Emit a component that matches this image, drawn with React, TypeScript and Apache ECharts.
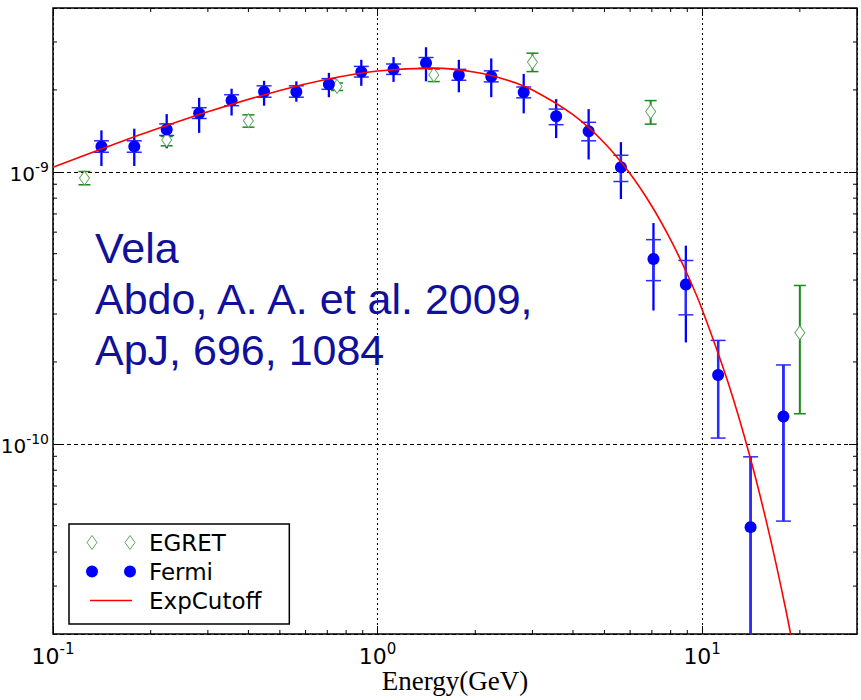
import React, { useEffect, useRef } from "react";
import * as echarts from "echarts";

// ---------- data ----------
const fermiEnergy = [0.141, 0.178, 0.224, 0.282, 0.355, 0.447, 0.562, 0.708, 0.891, 1.12, 1.41, 1.78, 2.24, 2.82, 3.55, 4.47, 5.62, 7.08, 8.91, 11.2, 14.1, 17.8];
const fermiFlux = [1.24e-9, 1.24e-9, 1.43e-9, 1.64e-9, 1.83e-9, 1.97e-9, 1.97e-9, 2.10e-9, 2.33e-9, 2.38e-9, 2.51e-9, 2.27e-9, 2.24e-9, 1.96e-9, 1.60e-9, 1.41e-9, 1.04e-9, 4.78e-10, 3.85e-10, 1.79e-10, 4.94e-11, 1.26e-10];
const fermiStatLo = [1.18e-9, 1.18e-9, 1.36e-9, 1.57e-9, 1.75e-9, 1.88e-9, 1.88e-9, 2.01e-9, 2.23e-9, 2.28e-9, 2.40e-9, 2.17e-9, 2.14e-9, 1.87e-9, 1.49e-9, 1.30e-9, 9.21e-10, 3.98e-10, 2.98e-10, 1.05e-10, 1.0e-11, 5.2e-11];
const fermiStatHi = [1.30e-9, 1.30e-9, 1.50e-9, 1.72e-9, 1.92e-9, 2.07e-9, 2.07e-9, 2.20e-9, 2.44e-9, 2.49e-9, 2.63e-9, 2.38e-9, 2.35e-9, 2.05e-9, 1.70e-9, 1.52e-9, 1.15e-9, 5.63e-10, 4.72e-10, 2.40e-10, 8.96e-11, 1.95e-10];
const fermiTotLo = [1.05e-9, 1.05e-9, 1.22e-9, 1.39e-9, 1.61e-9, 1.75e-9, 1.81e-9, 1.88e-9, 2.07e-9, 2.14e-9, 2.15e-9, 1.96e-9, 1.88e-9, 1.64e-9, 1.33e-9, 1.11e-9, 7.94e-10, 3.09e-10, 2.36e-10, 1.05e-10, 1.0e-11, 5.2e-11];
const fermiTotHi = [1.42e-9, 1.44e-9, 1.63e-9, 1.87e-9, 2.02e-9, 2.16e-9, 2.15e-9, 2.31e-9, 2.58e-9, 2.64e-9, 2.87e-9, 2.58e-9, 2.61e-9, 2.29e-9, 1.85e-9, 1.70e-9, 1.285e-9, 6.48e-10, 5.35e-10, 2.40e-10, 8.96e-11, 1.95e-10];

const egretEnergy = [0.125, 0.224, 0.40, 0.75, 1.49, 3.0, 6.94, 20.0];
const egretFlux = [9.48e-10, 1.31e-9, 1.54e-9, 2.06e-9, 2.27e-9, 2.53e-9, 1.665e-9, 2.56e-10];
const egretLo = [8.96e-10, 1.246e-9, 1.459e-9, 1.99e-9, 2.146e-9, 2.335e-9, 1.497e-9, 1.29e-10];
const egretHi = [1.0025e-9, 1.348e-9, 1.619e-9, 2.12e-9, 2.383e-9, 2.729e-9, 1.827e-9, 3.82e-10];

const cutoffEnergy = [0.1, 0.15, 0.2, 0.3, 0.5, 0.7, 1.0, 1.5, 2, 2.5, 3, 4, 5, 6, 7, 8, 9, 10, 12, 14, 16, 18, 20];
const cutoffFlux = [1.04e-9, 1.246e-9, 1.411e-9, 1.661e-9, 1.991e-9, 2.189e-9, 2.346e-9, 2.404e-9, 2.323e-9, 2.176e-9, 1.998e-9, 1.621e-9, 1.276e-9, 9.83e-10, 7.47e-10, 5.62e-10, 4.20e-10, 3.12e-10, 1.69e-10, 9.08e-11, 4.82e-11, 2.54e-11, 1.33e-11];

const X_MIN = 0.1;
const X_MAX = 30;
const Y_MIN = 2e-11;
const Y_MAX = 4e-9;
const xMinorTicks = [0.2, 0.3, 0.4, 0.5, 0.6, 0.7, 0.8, 0.9, 2, 3, 4, 5, 6, 7, 8, 9, 20];
const yMinorTicks = [3e-11, 4e-11, 5e-11, 6e-11, 7e-11, 8e-11, 9e-11, 2e-10, 3e-10, 4e-10, 5e-10, 6e-10, 7e-10, 8e-10, 9e-10, 2e-9, 3e-9];

const annotationLines = ["Vela", "Abdo, A. A. et al. 2009,", "ApJ, 696, 1084"];
const xAxisTitle = "Energy(GeV)";

// ---------- helpers ----------
const FONT = "DejaVu Sans";
const powLabel = (v: number) => {
  const e = Math.round(Math.log10(v));
  return `{b|10}{s|${e}}`;
};
const xLabelRich = {
  b: { fontSize: 22, fontFamily: FONT, color: "#000", lineHeight: 26, verticalAlign: "bottom" },
  s: { fontSize: 15, fontFamily: FONT, color: "#000", lineHeight: 14, verticalAlign: "top" },
};
const yLabelRich = {
  b: { fontSize: 20, fontFamily: FONT, color: "#000", lineHeight: 24, verticalAlign: "bottom" },
  s: { fontSize: 14, fontFamily: FONT, color: "#000", lineHeight: 13, verticalAlign: "top" },
};

function errorBarRenderer(color: string, lineWidth: number, capHalf: number, capWidth: number) {
  return (params: any, api: any) => {
    const x = api.value(0);
    const lo = api.coord([x, api.value(1)]);
    const hi = api.coord([x, api.value(2)]);
    const children: any[] = [
      { type: "line", shape: { x1: lo[0], y1: lo[1], x2: hi[0], y2: hi[1] }, style: { stroke: color, lineWidth } },
    ];
    if (capHalf > 0) {
      children.push({ type: "line", shape: { x1: lo[0] - capHalf, y1: lo[1], x2: lo[0] + capHalf, y2: lo[1] }, style: { stroke: color, lineWidth: capWidth } });
      children.push({ type: "line", shape: { x1: hi[0] - capHalf, y1: hi[1], x2: hi[0] + capHalf, y2: hi[1] }, style: { stroke: color, lineWidth: capWidth } });
    }
    return { type: "group", children };
  };
}

const MINOR_LEN = 4;
const xMinorRenderer = (params: any, api: any) => {
  const x = api.value(0);
  const b = api.coord([x, Y_MIN]);
  const t = api.coord([x, Y_MAX]);
  return {
    type: "group",
    children: [
      { type: "line", shape: { x1: b[0], y1: b[1], x2: b[0], y2: b[1] - MINOR_LEN }, style: { stroke: "#000", lineWidth: 1 } },
      { type: "line", shape: { x1: t[0], y1: t[1], x2: t[0], y2: t[1] + MINOR_LEN }, style: { stroke: "#000", lineWidth: 1 } },
    ],
  };
};
const yMinorRenderer = (params: any, api: any) => {
  const y = api.value(1);
  const l = api.coord([X_MIN, y]);
  const r = api.coord([X_MAX, y]);
  return {
    type: "group",
    children: [
      { type: "line", shape: { x1: l[0], y1: l[1], x2: l[0] + MINOR_LEN, y2: l[1] }, style: { stroke: "#000", lineWidth: 1 } },
      { type: "line", shape: { x1: r[0], y1: r[1], x2: r[0] - MINOR_LEN, y2: r[1] }, style: { stroke: "#000", lineWidth: 1 } },
    ],
  };
};

const EGRET_ICON = "path://M5,0 L10,7 L5,14 L0,7 Z M43,0 L48,7 L43,14 L38,7 Z";
const FERMI_ICON = "path://M6,0 L6,0.01 Z M0,7 A6,6 0 1 0 12,7 A6,6 0 1 0 0,7 Z M38,7 A6,6 0 1 0 50,7 A6,6 0 1 0 38,7 Z M6,14 L6,13.99 Z";
const LINE_ICON = "path://M0,0 L0.01,0 Z M0,6.2 L42,6.2 L42,7.8 L0,7.8 Z M0,14 L0.01,14 Z";

export default function App() {
  const ref = useRef<HTMLDivElement>(null);
  useEffect(() => {
    if (!ref.current) return;
    const chart = echarts.init(ref.current, null, { renderer: "svg" });
    const option: any = {
      animation: false,
      backgroundColor: "#fff",
      grid: {
        left: 53, right: 4, top: 8, bottom: 66, outerBoundsMode: "none", containLabel: false,
        show: true, borderColor: "#000", borderWidth: 1.5, backgroundColor: "#fff",
      },
      xAxis: [
        {
          type: "log", logBase: 10, min: X_MIN, max: X_MAX, position: "bottom",
          axisLine: { show: false },
          axisTick: { show: true, inside: true, length: 8, lineStyle: { color: "#000", width: 1 } },
          minorTick: { show: false },
          axisLabel: { margin: 7, formatter: powLabel, rich: xLabelRich, showMinLabel: true, showMaxLabel: false },
          splitLine: { show: true, lineStyle: { color: "#000", width: 1, type: [2, 3] } },
          name: xAxisTitle, nameLocation: "middle", nameGap: 33, nameMoveOverlap: false,
          nameTextStyle: { fontFamily: "Liberation Serif", fontSize: 27, color: "#000" },
        },
        {
          type: "log", logBase: 10, min: X_MIN, max: X_MAX, position: "top",
          axisLine: { show: false },
          axisTick: { show: true, inside: true, length: 8, lineStyle: { color: "#000", width: 1 } },
          axisLabel: { show: false }, splitLine: { show: false },
        },
      ],
      yAxis: [
        {
          type: "log", logBase: 10, min: Y_MIN, max: Y_MAX, position: "left",
          axisLine: { show: false },
          axisTick: { show: true, inside: true, length: 8, lineStyle: { color: "#000", width: 1 } },
          minorTick: { show: false },
          axisLabel: { margin: 4, formatter: powLabel, rich: yLabelRich, showMinLabel: false, showMaxLabel: false },
          splitLine: { show: true, lineStyle: { color: "#000", width: 1, type: [4, 3] } },
        },
        {
          type: "log", logBase: 10, min: Y_MIN, max: Y_MAX, position: "right",
          axisLine: { show: false },
          axisTick: { show: true, inside: true, length: 8, lineStyle: { color: "#000", width: 1 } },
          axisLabel: { show: false }, splitLine: { show: false },
        },
      ],
      legend: {
        orient: "vertical", left: 69, top: 524,
        padding: [7, 28, 12, 17], itemWidth: 66, itemHeight: 14, itemGap: 6,
        borderColor: "#000", borderWidth: 1.5, backgroundColor: "#fff", borderRadius: 0,
        textStyle: { fontSize: 23, fontFamily: FONT, color: "#000" },
        selectedMode: false,
        data: [
          { name: "EGRET", icon: EGRET_ICON, itemStyle: { color: "#fff", borderColor: "#5fa85f", borderWidth: 1 } },
          { name: "Fermi", icon: FERMI_ICON, itemStyle: { color: "#0000ff", borderWidth: 0 } },
          { name: "ExpCutoff", icon: LINE_ICON, itemStyle: { color: "#ff0000", borderWidth: 0 }, lineStyle: { width: 0 } },
        ],
      },
      graphic: [
        {
          type: "text", x: 95, y: 222, z: 10,
          style: {
            text: annotationLines.join("\n"),
            fontSize: 43, fontFamily: "Liberation Sans", fill: "#10109a",
            lineHeight: 51, verticalAlign: "top", align: "left",
          },
        },
      ],
      series: [
        {
          name: "xMinor", type: "custom", renderItem: xMinorRenderer, silent: true,
          data: xMinorTicks.map((v) => [v, 1e-9]), z: 1,
        },
        {
          name: "yMinor", type: "custom", renderItem: yMinorRenderer, silent: true,
          data: yMinorTicks.map((v) => [1, v]), z: 1,
        },
        {
          name: "EGRET err", type: "custom", clip: true,
          renderItem: errorBarRenderer("#1a8a1a", 2, 6, 1.5),
          encode: { x: 0, y: [1, 2] },
          data: egretEnergy.map((e, i) => [e, egretLo[i], egretHi[i]]),
        },
        {
          name: "EGRET", type: "scatter", symbol: "diamond", symbolSize: [10, 14],
          itemStyle: { color: "#fff", borderColor: "#5fa85f", borderWidth: 1, opacity: 1 },
          data: egretEnergy.map((e, i) => [e, egretFlux[i]]),
        },
        {
          name: "Fermi tot", type: "custom", clip: true,
          renderItem: errorBarRenderer("#0000ff", 2.3, 0, 0),
          encode: { x: 0, y: [1, 2] },
          data: fermiEnergy.map((e, i) => [e, fermiTotLo[i], fermiTotHi[i]]),
        },
        {
          name: "Fermi stat", type: "custom", clip: true,
          renderItem: errorBarRenderer("#2a2aff", 2.3, 7.5, 1.5),
          encode: { x: 0, y: [1, 2] },
          data: fermiEnergy.map((e, i) => [e, fermiStatLo[i], fermiStatHi[i]]),
        },
        {
          name: "Fermi", type: "scatter", symbol: "circle", symbolSize: 12,
          itemStyle: { color: "#0000ff", opacity: 1 },
          data: fermiEnergy.map((e, i) => [e, fermiFlux[i]]),
        },
        {
          name: "ExpCutoff", type: "line", showSymbol: false, symbol: "none", smooth: 0.3,
          lineStyle: { color: "#ff0000", width: 1.6 }, itemStyle: { color: "#ff0000" },
          data: cutoffEnergy.map((e, i) => [e, cutoffFlux[i]]),
        },
      ],
    };
    chart.setOption(option);
    return () => chart.dispose();
  }, []);

  return <div ref={ref} style={{ position: "absolute", left: 0, top: 0, width: 861, height: 700, background: "#fff" }} />;
}
